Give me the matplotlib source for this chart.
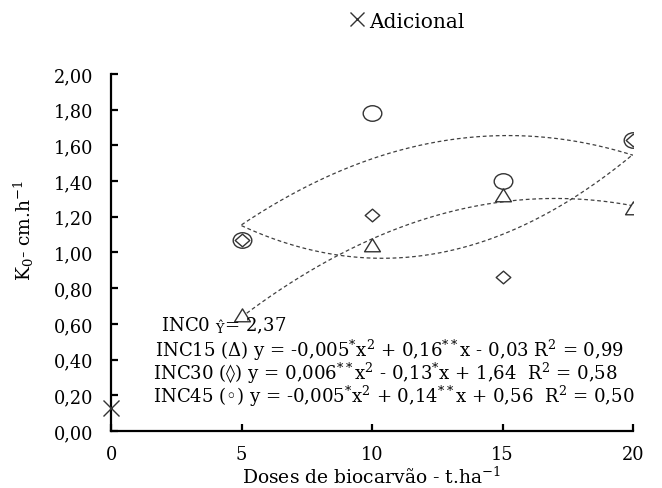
import numpy as np
import matplotlib
matplotlib.use("Agg")
import matplotlib.pyplot as plt
from matplotlib.ticker import FuncFormatter
from matplotlib.path import Path
from matplotlib.transforms import Affine2D

plt.rcParams['font.family'] = ['DejaVu Serif', 'DejaVu Sans']
plt.rcParams['mathtext.fontset'] = 'dejavuserif'

doses = [5, 10, 15, 20]
inc15 = [0.65, 1.04, 1.32, 1.25]   # triangles
inc30 = [1.07, 1.21, 0.86, 1.63]   # diamonds
inc45 = [1.07, 1.78, 1.40, 1.63]   # circles
adicional_x = [0]
adicional_y = [0.13]

yticks = [0.0, 0.2, 0.4, 0.6, 0.8, 1.0, 1.2, 1.4, 1.6, 1.8, 2.0]
xticks = [0, 5, 10, 15, 20]

eq_lines = [
    r'INC0 $_{\hat{\mathrm{Y}}}$= 2,37',
    r'INC15 (Δ) y = -0,005$^{*}$x$^{2}$ + 0,16$^{**}$x - 0,03 R$^{2}$ = 0,99',
    r'INC30 (◊) y = 0,006$^{**}$x$^{2}$ - 0,13$^{*}$x + 1,64  R$^{2}$ = 0,58',
    r'INC45 (◦) y = -0,005$^{*}$x$^{2}$ + 0,14$^{**}$x + 0,56  R$^{2}$ = 0,50',
]

# horizontally widened marker shapes (the reference is stretched sideways)
stretch = Affine2D().scale(1.2, 1.0)
m_circle = stretch.transform_path(Path.unit_circle())
m_tri = Path([(0, 1), (-1.2, -0.95), (1.2, -0.95), (0, 1)],
             [Path.MOVETO, Path.LINETO, Path.LINETO, Path.CLOSEPOLY])
m_dia = Path([(0, 1), (1.15, 0), (0, -1), (-1.15, 0), (0, 1)],
             [Path.MOVETO, Path.LINETO, Path.LINETO, Path.LINETO, Path.CLOSEPOLY])

fig = plt.figure(figsize=(6.62, 4.89), dpi=100)
ax = fig.add_axes([0.1677, 0.1166, 0.7885, 0.730])

xs = np.linspace(min(doses), max(doses), 200)
for series in (inc15, inc30, inc45):
    coef = np.polyfit(doses, series, 2)
    ax.plot(xs, np.polyval(coef, xs), linestyle=(0, (3, 2.2)), color='#404040', lw=0.9, zorder=2)

ec = '#333333'
ax.plot(doses, inc45, ls='none', marker=m_circle, ms=13.4, mfc='white', mec=ec, mew=1.0, zorder=3)
ax.plot(doses, inc30, ls='none', marker=m_dia, ms=10.5, mfc='white', mec=ec, mew=1.0, zorder=4)
ax.plot(doses, inc15, ls='none', marker=m_tri, ms=11.4, mfc='white', mec=ec, mew=1.0, zorder=4)
ax.plot(adicional_x, adicional_y, 'x', ms=11, mec=ec, mew=1.0, ls='none', zorder=5,
        clip_on=False, label='Adicional')

ax.set_xlim(0, 20)
ax.set_ylim(0, 2.0)
ax.set_xticks(xticks)
ax.set_yticks(yticks)
ax.yaxis.set_major_formatter(FuncFormatter(lambda v, p: f'{v:.2f}'.replace('.', ',')))
ax.spines['top'].set_visible(False)
ax.spines['right'].set_visible(False)
for s in ('left', 'bottom'):
    ax.spines[s].set_linewidth(1.6)
ax.tick_params(axis='both', direction='in', length=5, width=1.6, labelsize=12.8, colors='black')
ax.tick_params(axis='y', pad=13)
ax.tick_params(axis='x', pad=10)

ax.set_xlabel(r'Doses de biocarvão - t.ha$^{-1}$', fontsize=13.5)
ax.xaxis.set_label_coords(0.5, -52 / 357)
ax.xaxis.label.set_va('baseline')
ax.set_ylabel(r'K$_0$- cm.h$^{-1}$', fontsize=13.5)
ax.yaxis.set_label_coords(-87 / 522, (432 - 230) / 357)
ax.yaxis.label.set_va('center')

ypos = [326, 350, 373, 396]
xpos = [161, 155, 153, 153]
for t, yp, xp in zip(eq_lines, ypos, xpos):
    fig.text(xp / 662, 1 - yp / 489, t, fontsize=13.1, va='center', ha='left',
             family=['DejaVu Serif', 'DejaVu Sans'])

leg = fig.legend(loc='center', bbox_to_anchor=(408 / 662, 1 - 22 / 489), frameon=False,
                 fontsize=14.5, handlelength=0.6, handletextpad=0.3, markerscale=0.9)

fig.savefig('out.png', dpi=100)
